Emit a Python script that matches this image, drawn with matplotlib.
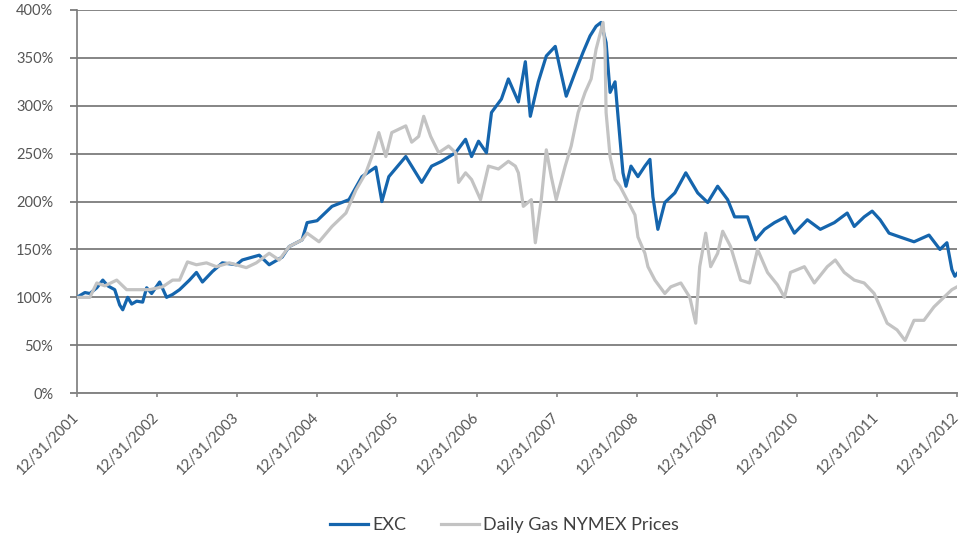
import numpy as np
import matplotlib as mpl
mpl.use('Agg')
import matplotlib.pyplot as plt

# years since 12/31/2001, and value in % of start
exc_t = [0.000, 0.100, 0.162, 0.249, 0.324, 0.386, 0.473, 0.535, 0.573, 0.635,
         0.685, 0.747, 0.822, 0.872, 0.934, 1.034, 1.121, 1.196, 1.283, 1.407,
         1.494, 1.569, 1.694, 1.818, 1.993, 2.067, 2.279, 2.403, 2.565, 2.653,
         2.814, 2.877, 3.001, 3.188, 3.400, 3.562, 3.736, 3.811, 3.898, 4.110,
         4.184, 4.309, 4.433, 4.558, 4.732, 4.857, 4.932, 5.019, 5.118, 5.181,
         5.305, 5.392, 5.517, 5.604, 5.666, 5.766, 5.866, 5.978, 6.040, 6.115,
         6.227, 6.326, 6.413, 6.488, 6.550, 6.613, 6.663, 6.725, 6.762, 6.787,
         6.824, 6.862, 6.924, 7.011, 7.098, 7.161, 7.198, 7.260, 7.347, 7.472,
         7.609, 7.758, 7.883, 8.007, 8.132, 8.219, 8.381, 8.481, 8.593, 8.717,
         8.854, 8.966, 9.128, 9.290, 9.465, 9.626, 9.714, 9.838, 9.938, 10.037,
         10.149, 10.286, 10.461, 10.648, 10.785, 10.872, 10.934, 10.971, 11.0]
exc_v = [100, 105, 104, 110, 118, 112, 108, 92, 87, 100,
         93, 96, 95, 110, 104, 116, 100, 103, 108, 118,
         126, 116, 127, 136, 134, 139, 144, 134, 142, 153,
         160, 178, 180, 195, 202, 226, 236, 200, 226, 247,
         237, 220, 237, 242, 251, 265, 247, 263, 251, 293,
         307, 328, 304, 346, 289, 325, 352, 362, 338, 310,
         335, 356, 373, 383, 387, 366, 314, 325, 289, 265,
         230, 216, 237, 226, 237, 244, 205, 171, 199, 209,
         230, 209, 199, 216, 202, 184, 184, 160, 171, 178,
         184, 167, 181, 171, 178, 188, 174, 184, 190, 181,
         167, 163, 158, 165, 150, 157, 129, 122, 125]

gas_t = [0.000, 0.100, 0.162, 0.249, 0.349, 0.498, 0.622, 0.747, 0.909, 1.071,
         1.196, 1.283, 1.382, 1.494, 1.619, 1.743, 1.905, 2.117, 2.242, 2.403,
         2.528, 2.653, 2.814, 2.877, 3.026, 3.188, 3.362, 3.487, 3.611, 3.686,
         3.773, 3.861, 3.935, 4.110, 4.184, 4.271, 4.334, 4.421, 4.521, 4.645,
         4.732, 4.770, 4.857, 4.932, 5.044, 5.143, 5.268, 5.392, 5.479, 5.517,
         5.579, 5.679, 5.729, 5.803, 5.866, 5.928, 5.990, 6.102, 6.177, 6.264,
         6.351, 6.426, 6.488, 6.575, 6.600, 6.613, 6.663, 6.725, 6.787, 6.887,
         6.974, 7.011, 7.098, 7.136, 7.223, 7.347, 7.422, 7.547, 7.659, 7.733,
         7.783, 7.858, 7.920, 8.007, 8.070, 8.169, 8.294, 8.406, 8.506, 8.630,
         8.755, 8.842, 8.917, 9.091, 9.215, 9.377, 9.477, 9.589, 9.714, 9.838,
         9.963, 10.037, 10.125, 10.249, 10.349, 10.461, 10.585, 10.710, 10.834, 10.934,
         11.0]
gas_v = [100, 100, 100, 115, 112, 118, 108, 108, 108, 111,
         118, 118, 137, 134, 136, 132, 136, 131, 136, 146,
         139, 153, 160, 167, 158, 174, 188, 212, 230, 247,
         272, 247, 272, 279, 262, 268, 289, 268, 251, 258,
         251, 220, 230, 223, 202, 237, 234, 242, 237, 230,
         195, 202, 157, 202, 254, 226, 202, 237, 258, 293,
         314, 328, 359, 387, 359, 293, 247, 223, 216, 200,
         186, 163, 146, 132, 118, 104, 111, 115, 100, 73,
         132, 167, 132, 146, 169, 153, 118, 115, 150, 126,
         113, 100, 126, 132, 115, 132, 139, 126, 118, 115,
         104, 90, 73, 66, 55, 76, 76, 90, 100, 108,
         111]

tick_labels = ['12/31/%d' % y for y in range(2001, 2013)]
y_ticks = list(range(0, 401, 50))

mpl.rcParams['font.family'] = ['Lato', 'DejaVu Sans']

fig = plt.figure(figsize=(9.61, 5.4), dpi=100)
ax = fig.add_axes([0.080, 0.272, 0.916, 0.7095])

ax.plot(exc_t, exc_v, color='#1565ad', lw=2.3, label='EXC', zorder=3)
ax.plot(gas_t, gas_v, color='#c3c3c3', lw=2.3, label='Daily Gas NYMEX Prices', zorder=4)

ax.set_xlim(0, 11)
ax.set_ylim(0, 400)
ax.set_yticks(y_ticks)
ax.set_yticklabels(['%d%%' % v for v in y_ticks])
ax.set_xticks(range(12))
ax.set_xticklabels(tick_labels, rotation=45, ha='right', va='center',
                   rotation_mode='anchor')
ax.grid(axis='y', color='#858585', lw=1.4)
ax.set_axisbelow(True)

for s in ['top', 'right']:
    ax.spines[s].set_visible(False)
ax.spines['left'].set_color('#7a7a7a')
ax.spines['left'].set_linewidth(1.2)
ax.spines['bottom'].set_color('#858585')
ax.spines['bottom'].set_linewidth(1.4)
ax.tick_params(axis='both', colors='#858585', labelcolor='#555555', labelsize=10.5)
ax.tick_params(axis='y', length=5, width=1.4, pad=12)
ax.tick_params(axis='x', length=3, width=1.2, pad=13)

fig.legend(loc='center', bbox_to_anchor=(0.525, 0.028), ncol=2, frameon=False,
           fontsize=13, handlelength=2.1, handletextpad=0.25, columnspacing=1.9,
           labelcolor='#404040')

fig.savefig('out.png', dpi=100)
